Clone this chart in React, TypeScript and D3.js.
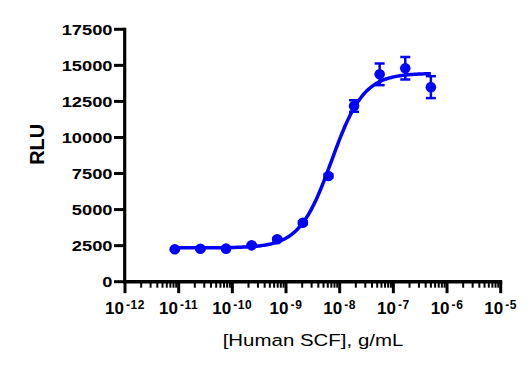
import React from 'react';
import * as d3 from 'd3';

// concentrations (g/mL), 3-fold dilution series
const conc = [8.47e-12, 2.54e-11, 7.62e-11, 2.286e-10, 6.86e-10, 2.058e-9, 6.173e-9, 1.852e-8, 5.556e-8, 1.667e-7, 5e-7];
const rlu = [2250, 2280, 2290, 2520, 2940, 4090, 7330, 12180, 14380, 14800, 13490];
const sd = [60, 60, 60, 70, 90, 100, 120, 400, 750, 780, 760];

// 4PL fit parameters
const fitBottom = 2350;
const fitTop = 14450;
const fitLogEC50 = -8.15;
const fitHill = 1.45;

const yTicks = [0, 2500, 5000, 7500, 10000, 12500, 15000, 17500];
const xExponents = [-12, -11, -10, -9, -8, -7, -6, -5];

const W = 527;
const H = 370;
const blue = '#0000ff';
const font = '"Liberation Sans", Arial, sans-serif';

const App = () => {
  const x = d3.scaleLog().domain([1e-12, 1e-5]).range([125, 500.7]);
  const y = d3.scaleLinear().domain([0, 17500]).range([281.7, 29.3]);

  const fit = (c: number) =>
    fitBottom + (fitTop - fitBottom) / (1 + Math.pow(10, (fitLogEC50 - Math.log10(c)) * fitHill));

  const lo = Math.log10(conc[0]);
  const hi = Math.log10(conc[conc.length - 1]);
  const curvePts = d3.range(0, 201).map(i => Math.pow(10, lo + (hi - lo) * i / 200));
  const line = d3.line<number>().x(c => x(c)).y(c => y(fit(c)));

  const allTicks = x.ticks();
  const isMajor = (t: number) => Math.abs(Math.log10(t) - Math.round(Math.log10(t))) < 1e-6;

  const axisY = y(0);

  return (
    <svg width={W} height={H} style={{ position: 'absolute', left: 0, top: 0, background: '#fff' }}>
      {/* fitted curve */}
      <path d={line(curvePts) || ''} fill="none" stroke={blue} strokeWidth={3.5} />

      {/* error bars */}
      {conc.map((c, i) => (
        <g key={'e' + i} stroke={blue} strokeWidth={2.5}>
          <line x1={x(c)} x2={x(c)} y1={y(rlu[i] - sd[i])} y2={y(rlu[i] + sd[i])} />
          <line x1={x(c) - 5} x2={x(c) + 5} y1={y(rlu[i] + sd[i])} y2={y(rlu[i] + sd[i])} />
          <line x1={x(c) - 5} x2={x(c) + 5} y1={y(rlu[i] - sd[i])} y2={y(rlu[i] - sd[i])} />
        </g>
      ))}

      {/* points */}
      {conc.map((c, i) => (
        <circle key={'p' + i} cx={x(c)} cy={y(rlu[i])} r={5.3} fill={blue} />
      ))}

      {/* y axis */}
      <line x1={124.7} x2={124.7} y1={y(17500) - 1.5} y2={axisY + 1.5} stroke="#000" strokeWidth={3.2} />
      {yTicks.map(t => (
        <g key={'y' + t}>
          <line x1={114} x2={125} y1={y(t)} y2={y(t)} stroke="#000" strokeWidth={3} />
          <text
            transform={`translate(112.5,${y(t) + 5.4}) scale(1.22,1)`}
            textAnchor="end"
            fontFamily={font}
            fontWeight="bold"
            fontSize={15}
            fill="#000"
          >
            {t}
          </text>
        </g>
      ))}

      {/* x axis */}
      <line x1={123} x2={x(1e-5) + 1.5} y1={axisY} y2={axisY} stroke="#000" strokeWidth={3.4} />
      {allTicks.map((t, i) => (
        <line
          key={'xt' + i}
          x1={x(t)}
          x2={x(t)}
          y1={axisY}
          y2={isMajor(t) ? axisY + 11.5 : axisY + 6}
          stroke="#000"
          strokeWidth={isMajor(t) ? 3 : 2}
        />
      ))}
      {xExponents.map(e => (
        <text
          key={'xl' + e}
          x={x(Math.pow(10, e))}
          y={313.5}
          textAnchor="middle"
          fontFamily={font}
          fontWeight="bold"
          fontSize={17}
          fill="#000"
        >
          10
          <tspan dx={2} dy={-4.5} fontSize={12} letterSpacing={0.6}>
            {String(e)}
          </tspan>
        </text>
      ))}

      {/* axis titles */}
      <text
        transform="translate(313,345.5) scale(1.24,1)"
        textAnchor="middle"
        fontFamily={font}
        fontSize={16.5}
        fill="#000"
      >
        [Human SCF], g/mL
      </text>
      <text
        transform="translate(44,144.3) rotate(-90)"
        textAnchor="middle"
        fontFamily={font}
        fontWeight="bold"
        fontSize={20}
        fill="#000"
      >
        RLU
      </text>
    </svg>
  );
};

export default App;
